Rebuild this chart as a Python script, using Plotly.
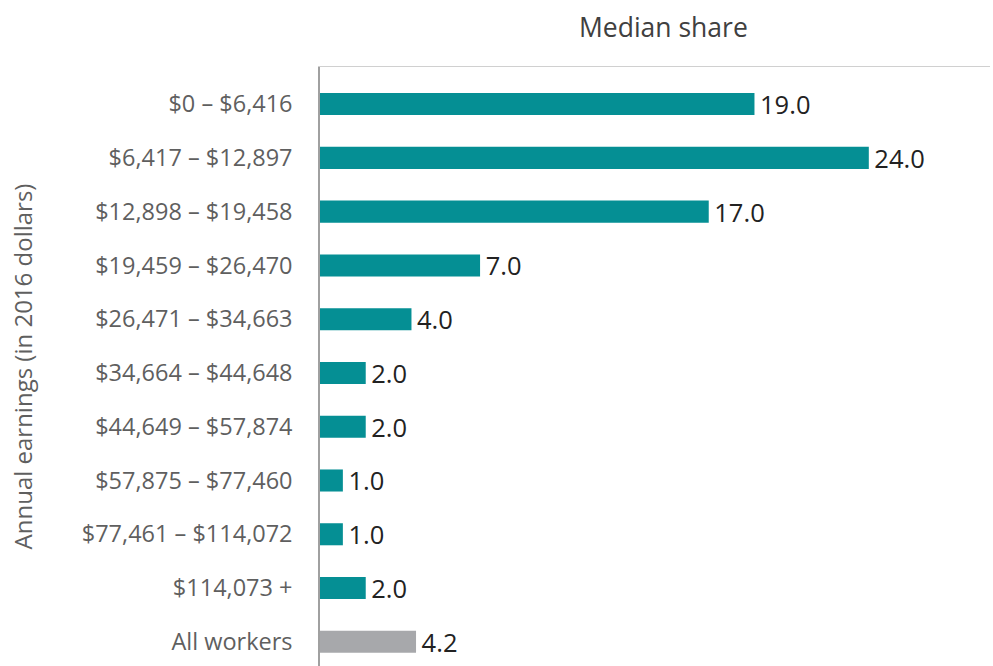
import plotly.graph_objects as go

categories = ["$0 – $6,416", "$6,417 – $12,897", "$12,898 – $19,458", "$19,459 – $26,470",
              "$26,471 – $34,663", "$34,664 – $44,648", "$44,649 – $57,874", "$57,875 – $77,460",
              "$77,461 – $114,072", "$114,073 +", "All workers"]
median_share = [19.0, 24.0, 17.0, 7.0, 4.0, 2.0, 2.0, 1.0, 1.0, 2.0, 4.2]
bar_colors = ["#058f94"] * 10 + ["#a7a8ab"]

FONT = "Open Sans"

fig = go.Figure(go.Bar(
    x=median_share, y=categories, orientation="h",
    marker=dict(color=bar_colors, line=dict(width=0)),
    width=0.41,
    text=[f"\u200a{v:.1f}" for v in median_share], textposition="outside",
    textfont=dict(family=FONT, size=25.5, color="#222222"),
    constraintext="none",
    cliponaxis=False,
))

fig.update_layout(
    width=993, height=666,
    margin=dict(l=320, r=3, t=67, b=0),
    plot_bgcolor="white", paper_bgcolor="white",
    showlegend=False,
    font=dict(family=FONT),
    xaxis=dict(side="top", range=[0, 29.3], showgrid=False, zeroline=False, automargin=False,
               showticklabels=False, ticks="", showline=True, linecolor="#d0d0d0", linewidth=1),
    yaxis=dict(type="category", range=[10.45, -0.69], showgrid=False, zeroline=False, automargin=False,
               showline=True, linecolor="#a0a0a0", linewidth=1.5, ticks="",
               ticklabelstandoff=21,
               tickfont=dict(size=23.5, color="#5f5f5f"),
               title=dict(text="Annual earnings (in 2016 dollars)", font=dict(size=24, color="#5f5f5f"), standoff=42)),
    annotations=[dict(text="Median share", xref="paper", yref="paper", x=0.512, y=1.0668,
                      xanchor="center", yanchor="middle", showarrow=False,
                      font=dict(family=FONT, size=26.5, color="#404040"))],
)

fig.write_html("out.html", post_script="document.body.style.margin='0';",
               config={"displayModeBar": False})
